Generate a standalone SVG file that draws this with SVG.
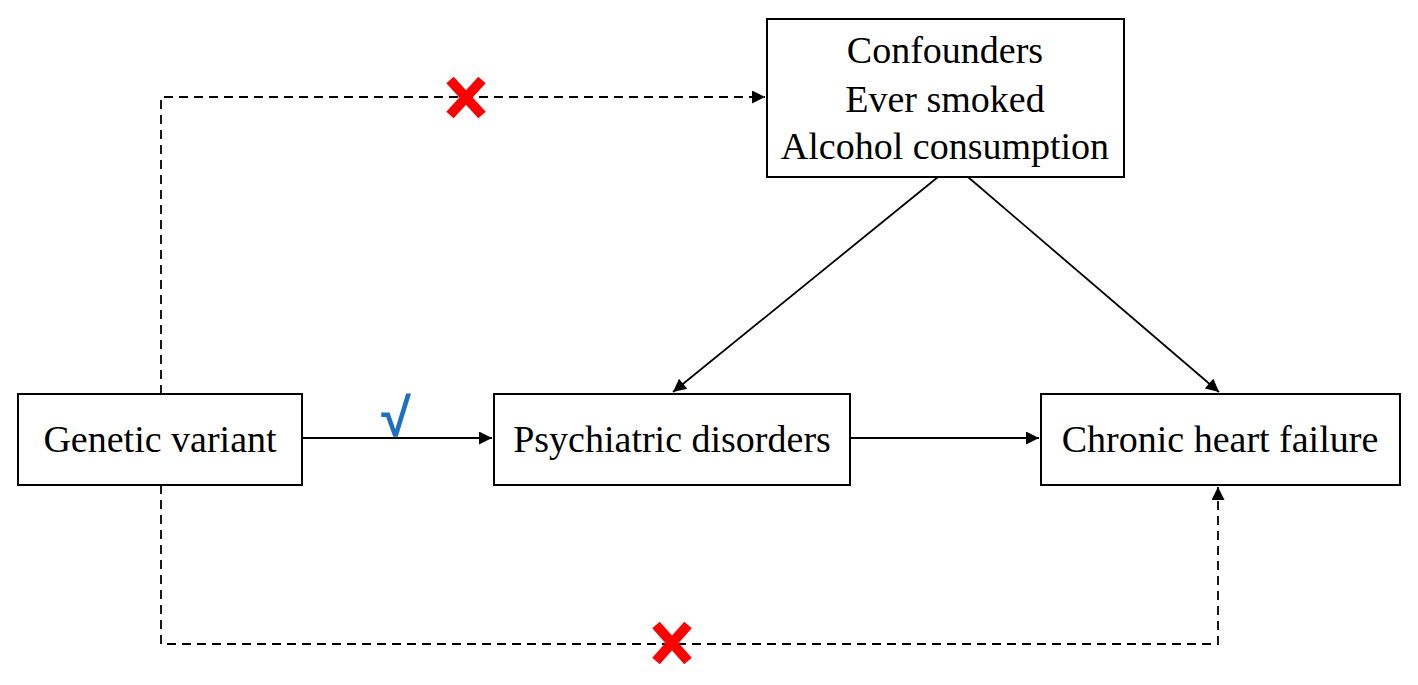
<svg xmlns="http://www.w3.org/2000/svg" width="1418" height="685" viewBox="0 0 1418 685">
<style>
.box{fill:#fff;stroke:#000;stroke-width:2}
.lbl{font-family:"Liberation Serif","Times New Roman",serif;font-size:38px;fill:#000;text-anchor:middle}
.solid{fill:none;stroke:#000;stroke-width:1.8}
.dash{fill:none;stroke:#000;stroke-width:1.8;stroke-dasharray:9 6}
.x{stroke:#f00;stroke-width:10;stroke-linecap:butt}
</style>
<defs>
<marker id="ah" viewBox="0 0 10 10" refX="10" refY="5" markerWidth="14" markerHeight="13" markerUnits="userSpaceOnUse" orient="auto">
<path d="M0,0 L10,5 L0,10 z" fill="#000"/>
</marker>
</defs>
<rect width="1418" height="685" fill="#fff"/>
<g id="connectors">
<path class="dash" d="M161,394 V97 H765" marker-end="url(#ah)"/>
<path class="dash" d="M161,485 V644 H1218 V487" marker-end="url(#ah)"/>
<path class="solid" d="M302,438 H492" marker-end="url(#ah)"/>
<path class="solid" d="M850,438 H1039" marker-end="url(#ah)"/>
<path class="solid" d="M938,177 L673,392" marker-end="url(#ah)"/>
<path class="solid" d="M968,177 L1219,392" marker-end="url(#ah)"/>
<g id="cross-top"><line class="x" x1="450" y1="80" x2="482" y2="115"/><line class="x" x1="482" y1="80" x2="450" y2="115"/></g>
<g id="cross-bottom"><line class="x" x1="656" y1="625" x2="688" y2="661"/><line class="x" x1="688" y1="625" x2="656" y2="661"/></g>
<text x="396" y="436" font-family="Liberation Sans, Arial, sans-serif" font-size="54" font-weight="bold" fill="#1f6fc0" text-anchor="middle">√</text>
</g>
<g id="genetic-variant">
<rect class="box" x="18" y="394" width="284" height="91"/>
<text class="lbl" x="160" y="452">Genetic variant</text>
</g>
<g id="psychiatric-disorders">
<rect class="box" x="494" y="394" width="356" height="91"/>
<text class="lbl" x="672" y="452">Psychiatric disorders</text>
</g>
<g id="chronic-heart-failure">
<rect class="box" x="1041" y="394" width="359" height="91"/>
<text class="lbl" x="1220" y="452">Chronic heart failure</text>
</g>
<g id="confounders">
<rect class="box" x="767" y="19" width="357" height="158"/>
<text class="lbl" x="945" y="63">Confounders</text>
<text class="lbl" x="945" y="112">Ever smoked</text>
<text class="lbl" x="945" y="159">Alcohol consumption</text>
</g>
</svg>
